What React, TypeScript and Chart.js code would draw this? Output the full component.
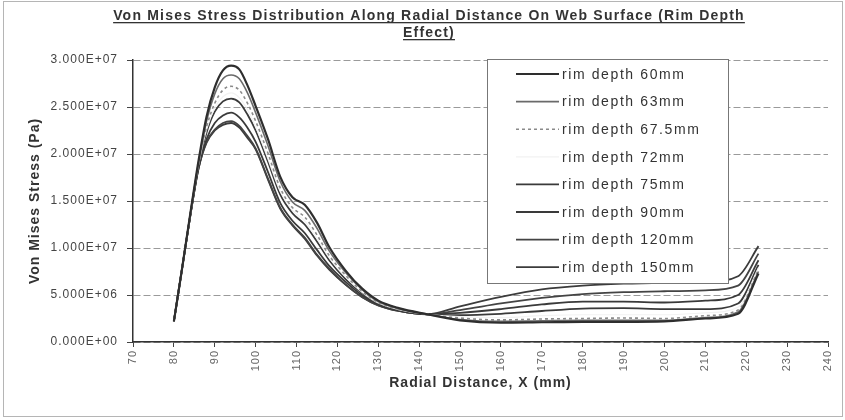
import React, { useEffect, useRef } from 'react';
import { Chart, registerables } from 'chart.js';

Chart.register(...registerables);

const titleLines = [
  'Von Mises Stress Distribution Along Radial Distance On Web Surface (Rim Depth',
  'Effect)',
];
const xAxisTitle = 'Radial Distance, X (mm)';
const yAxisTitle = 'Von Mises Stress (Pa)';

// radial distance (mm)
const radialX = [80, 82, 84, 86, 88, 90, 92, 94, 96, 98, 100, 103, 106, 109, 112, 115, 118, 122, 126, 130, 135, 142, 150, 160, 170, 180, 190, 200, 210, 218, 223];

// stress values in units of 1E+06 Pa
const rim60 = [2.2, 7.8, 13.6, 19.2, 24.0, 27.1, 28.9, 29.4, 29.0, 27.3, 25.1, 21.6, 17.6, 15.4, 14.6, 12.7, 10.1, 7.6, 5.7, 4.4, 3.6, 2.95, 2.3, 2.05, 2.1, 2.15, 2.15, 2.2, 2.5, 3.0, 7.3];
const rim63 = [2.2, 7.8, 13.6, 19.0, 23.5, 26.4, 28.0, 28.4, 28.0, 26.5, 24.4, 20.9, 17.1, 14.9, 14.0, 12.1, 9.7, 7.4, 5.6, 4.3, 3.55, 2.95, 2.4, 2.2, 2.25, 2.3, 2.3, 2.3, 2.6, 3.2, 7.5];
const rim67_5 = [2.2, 7.8, 13.5, 18.9, 22.9, 25.4, 26.8, 27.2, 26.8, 25.4, 23.5, 20.1, 16.4, 14.3, 13.3, 11.4, 9.2, 7.1, 5.4, 4.2, 3.5, 2.95, 2.55, 2.35, 2.45, 2.5, 2.55, 2.5, 2.8, 3.4, 7.7];
const rim72 = [2.2, 7.8, 13.5, 18.8, 22.6, 24.9, 26.1, 26.5, 26.0, 24.7, 22.9, 19.5, 16.0, 14.0, 12.9, 11.0, 8.95, 6.9, 5.3, 4.15, 3.45, 2.95, 2.7, 2.6, 2.8, 2.9, 2.9, 2.9, 3.1, 3.7, 7.9];
const rim75 = [2.2, 7.8, 13.5, 18.7, 22.3, 24.5, 25.6, 25.9, 25.5, 24.2, 22.5, 19.2, 15.7, 13.7, 12.5, 10.7, 8.7, 6.7, 5.2, 4.1, 3.4, 2.95, 2.85, 3.0, 3.3, 3.55, 3.6, 3.5, 3.5, 4.1, 8.2];
const rim90 = [2.2, 7.8, 13.4, 18.5, 21.6, 23.3, 24.1, 24.4, 23.9, 22.8, 21.3, 18.1, 14.8, 12.9, 11.6, 9.8, 8.1, 6.4, 5.0, 4.0, 3.35, 2.95, 3.1, 3.5, 4.0, 4.3, 4.3, 4.2, 4.4, 5.0, 8.7];
const rim120 = [2.2, 7.8, 13.4, 18.4, 21.3, 22.6, 23.3, 23.5, 23.0, 21.9, 20.6, 17.4, 14.3, 12.5, 11.1, 9.3, 7.8, 6.1, 4.8, 3.9, 3.3, 2.95, 3.4, 4.1, 4.7, 5.1, 5.3, 5.4, 5.5, 6.0, 9.4];
const rim150 = [2.2, 7.8, 13.4, 18.4, 21.2, 22.5, 23.1, 23.3, 22.8, 21.7, 20.5, 17.3, 14.2, 12.4, 11.0, 9.2, 7.7, 6.1, 4.8, 3.9, 3.3, 2.95, 3.8, 4.8, 5.6, 6.0, 6.2, 6.3, 6.4, 7.0, 10.2];

const seriesNames = ['rim depth 60mm', 'rim depth 63mm', 'rim depth 67.5mm', 'rim depth 72mm', 'rim depth 75mm', 'rim depth 90mm', 'rim depth 120mm', 'rim depth 150mm'];
const seriesValues = [rim60, rim63, rim67_5, rim72, rim75, rim90, rim120, rim150];

const yTickValues = [0, 5, 10, 15, 20, 25, 30];
const yTickLabels = ['0.000E+00', '5.000E+06', '1.000E+07', '1.500E+07', '2.000E+07', '2.500E+07', '3.000E+07'];

const lineStyles = [
  { color: '#2e2e2e', width: 2.2, dash: [] as number[] },
  { color: '#6a6a6a', width: 1.6, dash: [] as number[] },
  { color: '#8a8a8a', width: 1.6, dash: [3, 3] },
  { color: '#f2f2f2', width: 1.2, dash: [] as number[] },
  { color: '#3a3a3a', width: 1.8, dash: [] as number[] },
  { color: '#3a3a3a', width: 1.8, dash: [] as number[] },
  { color: '#444444', width: 1.8, dash: [] as number[] },
  { color: '#3c3c3c', width: 1.8, dash: [] as number[] },
];

const FONT = "'Liberation Sans', Arial, sans-serif";

const spacingPlugin = {
  id: 'spacing',
  beforeUpdate(chart: any) { chart.ctx.letterSpacing = '1px'; },
  beforeDraw(chart: any) {
    const ctx = chart.ctx;
    ctx.letterSpacing = '1px';
    ctx.save();
    ctx.fillStyle = '#ffffff';
    ctx.fillRect(0, 0, chart.width, chart.height);
    ctx.strokeStyle = '#b5b5b5';
    ctx.lineWidth = 1;
    ctx.strokeRect(3.5, 1.5, chart.width - 6, chart.height - 5);
    ctx.restore();
  },
};

const titlePlugin = {
  id: 'underlinedTitle',
  afterDraw(chart: any) {
    const ctx = chart.ctx;
    ctx.save();
    ctx.letterSpacing = '1.2px';
    ctx.font = `bold 14px ${FONT}`;
    ctx.fillStyle = '#333';
    ctx.textAlign = 'center';
    ctx.textBaseline = 'alphabetic';
    const cx = 429;
    titleLines.forEach((t, i) => {
      const y = 20 + i * 17;
      ctx.fillText(t, cx, y);
      const w = ctx.measureText(t).width;
      ctx.fillRect(cx - w / 2, y + 2, w, 1.3);
    });
    ctx.restore();
  },
};

const legendPlugin = {
  id: 'boxLegend',
  afterDraw(chart: any) {
    const ctx = chart.ctx;
    const bx = 487.5, by = 59.5, bw = 241, bh = 224;
    ctx.save();
    ctx.fillStyle = '#ffffff';
    ctx.fillRect(bx, by, bw, bh);
    ctx.strokeStyle = '#777';
    ctx.lineWidth = 1;
    ctx.strokeRect(bx, by, bw, bh);
    ctx.letterSpacing = '1.6px';
    ctx.font = `14px ${FONT}`;
    ctx.textBaseline = 'middle';
    ctx.textAlign = 'left';
    chart.data.datasets.forEach((ds: any, i: number) => {
      const y = 74 + i * 27.6;
      ctx.save();
      ctx.strokeStyle = ds.borderColor;
      ctx.lineWidth = ds.borderWidth;
      ctx.setLineDash(ds.borderDash || []);
      ctx.beginPath();
      ctx.moveTo(516, y);
      ctx.lineTo(559, y);
      ctx.stroke();
      ctx.restore();
      ctx.fillStyle = '#333';
      ctx.fillText(ds.label, 562, y + 1);
    });
    ctx.restore();
  },
};

export default function App() {
  const ref = useRef<HTMLCanvasElement | null>(null);

  useEffect(() => {
    document.body.style.margin = '0';
    const canvas = ref.current;
    if (!canvas) return;
    const datasets = seriesValues.map((vals, i) => ({
      label: seriesNames[i],
      data: radialX.map((x, j) => ({ x, y: vals[j] })),
      borderColor: lineStyles[i].color,
      borderWidth: lineStyles[i].width,
      borderDash: lineStyles[i].dash,
      pointRadius: 0,
      fill: false,
      cubicInterpolationMode: 'monotone' as const,
    }));
    const chart = new Chart(canvas, {
      type: 'line',
      data: { datasets },
      options: {
        animation: false,
        responsive: false,
        devicePixelRatio: 1,
        layout: { padding: { top: 60, right: 17, left: 0, bottom: 0 } },
        plugins: {
          legend: { display: false },
          tooltip: { enabled: false },
          title: { display: false },
        },
        scales: {
          x: {
            type: 'linear',
            min: 70,
            max: 240,
            ticks: {
              stepSize: 10,
              minRotation: 90,
              maxRotation: 90,
              autoSkip: false,
              color: '#666',
              padding: 3,
              font: { family: FONT, size: 11 },
            },
            grid: { drawOnChartArea: false, tickLength: 5, color: '#444', tickColor: '#444' },
            border: { color: '#333', width: 1.5 },
            title: {
              display: true,
              text: xAxisTitle,
              color: '#333',
              font: { family: FONT, size: 14, weight: 'bold' },
              padding: { top: 0, bottom: 28 },
            },
            afterFit: (s: any) => { s.height = 78; },
          },
          y: {
            min: 0,
            max: 30,
            ticks: {
              stepSize: 5,
              color: '#444',
              padding: 9,
              font: { family: FONT, size: 12 },
              callback: (v: any) => {
                const k = yTickValues.indexOf(Number(v));
                return k >= 0 ? yTickLabels[k] : '';
              },
            },
            grid: { color: '#9a9a9a', tickLength: 6, tickColor: '#444', lineWidth: 1 },
            border: { color: '#333', width: 1.5, dash: [7, 3] },
            title: {
              display: true,
              text: yAxisTitle,
              color: '#333',
              font: { family: FONT, size: 14, weight: 'bold' },
              padding: { top: 27, bottom: 0 },
            },
            afterFit: (s: any) => { s.width = 133; },
          },
        },
      } as any,
      plugins: [spacingPlugin, titlePlugin, legendPlugin],
    });
    return () => chart.destroy();
  }, []);

  return (
    <div style={{ width: 845, height: 420 }}>
      <canvas ref={ref} width={845} height={420} style={{ display: 'block' }} />
    </div>
  );
}
